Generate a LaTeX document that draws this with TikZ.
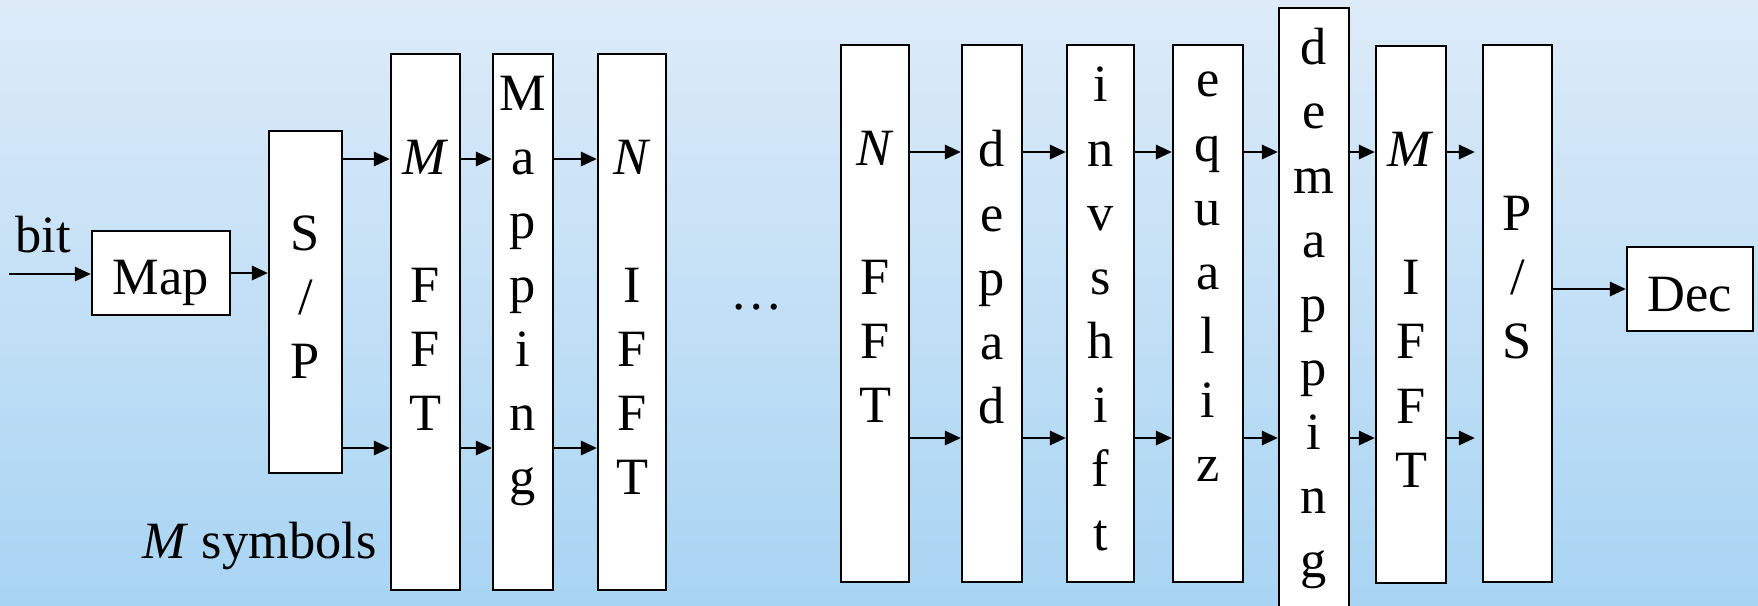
\documentclass[tikz,border=0pt]{standalone}
\usepackage{fontspec}
\setmainfont{Liberation Serif}
\usepackage{tikz}
\usetikzlibrary{arrows.meta}
\usepackage{xcolor}
\definecolor{skytop}{RGB}{221,235,248}
\definecolor{skybottom}{RGB}{168,212,243}
\newcommand{\vstrut}{\rule[-0.095cm]{0pt}{0.64cm}}

\begin{document}
\begin{tikzpicture}[
  x=0.01cm, y=-0.01cm,
  every node/.style={font=\fontsize{14.9}{18.23}\selectfont, inner sep=0pt},
  blk/.style={draw, fill=white, line width=0.6pt, align=center,
    execute at begin node=\vstrut, execute at end node=\vstrut},
  txtx/.style={blk, minimum height=5.36cm},
  rxtx/.style={blk, minimum height=5.365cm},
  arr/.style={line width=0.8pt, -{Triangle[length=0.16cm, width=0.14cm]}}
]
\useasboundingbox (0,0) rectangle (1758,605);
\shade[top color=skytop, bottom color=skybottom] (0,0) rectangle (1758,605);

% transmitter
\node[blk, minimum width=1.38cm, minimum height=0.84cm] (map) at (161,273) {Map};
\node[blk, minimum width=0.73cm, minimum height=3.42cm] (sp) at (305.5,302) {S\\/\\P};
\node[txtx, minimum width=0.69cm] (mfft) at (425.5,322) {\textit{M}\\~\\F\\F\\T\\~};
\node[txtx, minimum width=0.60cm] (mapping) at (523,322) {M\\a\\p\\p\\i\\n\\g\\~};
\node[txtx, minimum width=0.68cm] (nifft) at (632,322) {\textit{N}\\~\\I\\F\\F\\T};

\node[anchor=base west] (bit) at (15,252) {bit};
\node[anchor=base west] (msym) at (142,558) {\textit{M} symbols};
\node[anchor=base] (gap) at (757,309) {\ldots};

% receiver
\node[rxtx, minimum width=0.68cm] (nfft) at (875,313.75) {\textit{N}\\~\\F\\F\\T\\~};
\node[rxtx, minimum width=0.60cm] (depad) at (992,313.75) {d\\e\\p\\a\\d\\~};
\node[rxtx, minimum width=0.67cm] (invshift) at (1100.5,313.75) {i\\n\\v\\s\\h\\i\\f\\t};
\node[rxtx, minimum width=0.70cm] (equaliz) at (1208,313.75) {e\\q\\u\\a\\l\\i\\z\\~};
\node[blk, minimum width=0.70cm, minimum height=6.005cm] (demap) at (1314,308.75) {d\\e\\m\\a\\p\\p\\i\\n\\g};
\node[blk, minimum width=0.70cm, minimum height=5.37cm] (mifft) at (1411,314.5) {\textit{M}\\~\\I\\F\\F\\T};
\node[rxtx, minimum width=0.69cm] (ps) at (1517.5,313.75) {P\\/\\S\\~};
\node[blk, minimum width=1.26cm, minimum height=0.84cm] (dec) at (1690,289) {Dec};

\coordinate (bitin) at (9,274);
\coordinate (rowA) at (0,159);
\coordinate (rowB) at (0,448);
\coordinate (rowC) at (0,152);
\coordinate (rowD) at (0,438);

\draw[arr] (bitin) -- (bitin -| map.west);
\draw[arr] (map.east) -- (map.east -| sp.west);
\foreach \a/\b in {sp/mfft, mfft/mapping, mapping/nifft}
  \foreach \r in {rowA, rowB}
    \draw[arr] (\a.east |- \r) -- (\b.west |- \r);
\foreach \a/\b in {nfft/depad, depad/invshift, invshift/equaliz, equaliz/demap, demap/mifft}
  \foreach \r in {rowC, rowD}
    \draw[arr] (\a.east |- \r) -- (\b.west |- \r);
\foreach \r in {rowC, rowD}
  \draw[arr, shorten >=0.07cm] (mifft.east |- \r) -- (ps.west |- \r);
\draw[arr] (ps.east |- dec.west) -- (dec.west);
\end{tikzpicture}
\end{document}
